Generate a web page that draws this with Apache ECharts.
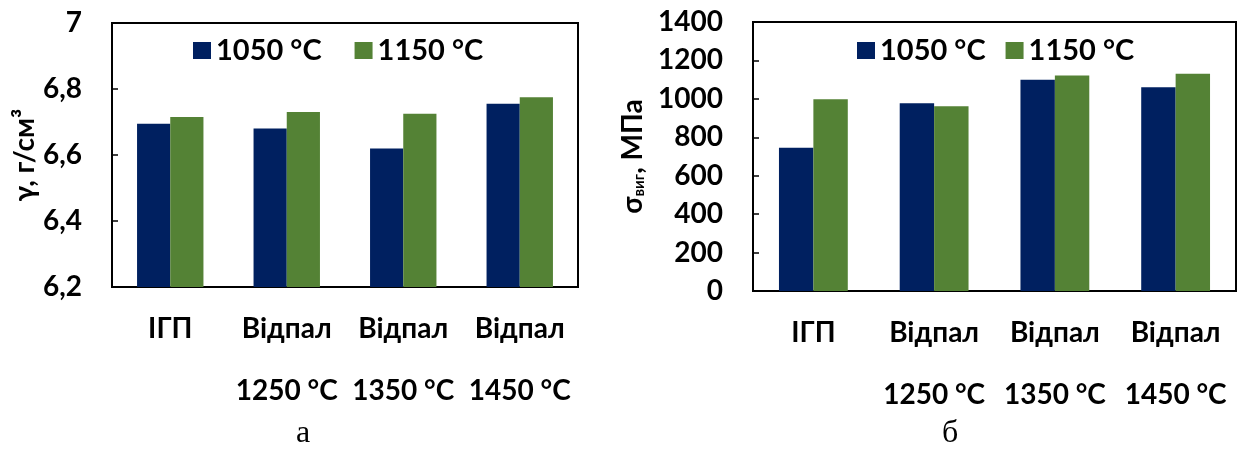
<!DOCTYPE html>
<html lang="uk">
<head>
<meta charset="UTF-8">
<title>Густина та міцність</title>
<style>
  body { margin: 0; padding: 0; background: #fff; }
  #chart { width: 1237px; height: 450px; }
</style>
</head>
<body>
<div id="chart"></div>
<script src="https://cdn.jsdelivr.net/npm/echarts@6/dist/echarts.min.js"></script>
<script>
// categories (x axis, both panels)
var categories = ['ІГП', 'Відпал\n1250 °C', 'Відпал\n1350 °C', 'Відпал\n1450 °C'];
var seriesNames = ['1050 °C', '1150 °C'];

// panel а: density, g/cm3
var density1050 = [6.695, 6.68, 6.62, 6.755];
var density1150 = [6.715, 6.73, 6.725, 6.775];
var densityMin = 6.2, densityMax = 7, densityStep = 0.2;

// panel б: bending strength, MPa
var strength1050 = [745, 977, 1100, 1060];
var strength1150 = [998, 961, 1122, 1131];
var strengthMin = 0, strengthMax = 1400, strengthStep = 200;

var FONT = "Lato, 'Open Sans', 'Noto Sans', sans-serif";
var BLUE = '#002060';
var GREEN = '#548235';

var chart = echarts.init(document.getElementById('chart'));

function xAxisFor(gridIndex) {
    return {
        type: 'category',
        gridIndex: gridIndex,
        data: categories,
        axisLine: { lineStyle: { color: '#000', width: 2 } },
        axisTick: { show: false },
        axisLabel: {
            color: '#000', fontFamily: FONT, fontWeight: 'bold', fontSize: 28,
            lineHeight: 62, margin: 11, interval: 0
        }
    };
}

function yAxisFor(gridIndex, min, max, step, formatter) {
    return {
        type: 'value',
        gridIndex: gridIndex,
        min: min, max: max, interval: step,
        nameLocation: 'middle',
        axisLine: { show: true, lineStyle: { color: '#000', width: 2 } },
        axisTick: { show: true, inside: true, length: 6, lineStyle: { color: '#000', width: 1.5 } },
        splitLine: { show: false },
        axisLabel: {
            color: '#000', fontFamily: FONT, fontWeight: 'bold', fontSize: 28,
            margin: 30, formatter: formatter
        }
    };
}

var yLeft = yAxisFor(0, densityMin, densityMax, densityStep, function (v) {
    return String(Math.round(v * 10) / 10).replace('.', ',');
});
yLeft.name = 'γ, г/см³';
yLeft.nameGap = 70;
yLeft.nameTextStyle = { color: '#000', fontFamily: FONT, fontWeight: 'bold', fontSize: 28 };

var yRight = yAxisFor(1, strengthMin, strengthMax, strengthStep, function (v) { return v; });
yRight.name = '{a|σ}{b|виг}{a|, МПа}';
yRight.nameGap = 106;
yRight.nameTextStyle = {
    color: '#000', fontFamily: FONT, fontWeight: 'bold', fontSize: 28,
    rich: {
        a: { fontFamily: FONT, fontWeight: 'bold', fontSize: 28, color: '#000' },
        b: { fontFamily: FONT, fontWeight: 'bold', fontSize: 15, color: '#000', verticalAlign: 'bottom', padding: [10, 0, 0, 0] }
    }
};

function legendFor(left, gap) {
    return {
        left: left, top: 31,
        itemWidth: 18, itemHeight: 17, itemGap: gap,
        icon: 'rect',
        data: seriesNames,
        textStyle: { color: '#000', fontFamily: FONT, fontWeight: 'bold', fontSize: 29 }
    };
}

function barSeries(name, data, color, axisIndex) {
    return {
        name: name, type: 'bar',
        xAxisIndex: axisIndex, yAxisIndex: axisIndex,
        data: data,
        barGap: '0%', barCategoryGap: '43%',
        itemStyle: { color: color },
        emphasis: { disabled: true }
    };
}

var option = {
    animation: false,
    backgroundColor: '#fff',
    grid: [
        { left: 112, top: 23, width: 466, height: 264, show: true, borderColor: '#000', borderWidth: 2 },
        { left: 753, top: 22, width: 483, height: 269, show: true, borderColor: '#000', borderWidth: 2 }
    ],
    legend: [legendFor(188, 33), legendFor(852, 20)],
    xAxis: [xAxisFor(0), xAxisFor(1)],
    yAxis: [yLeft, yRight],
    series: [
        barSeries(seriesNames[0], density1050, BLUE, 0),
        barSeries(seriesNames[1], density1150, GREEN, 0),
        barSeries(seriesNames[0], strength1050, BLUE, 1),
        barSeries(seriesNames[1], strength1150, GREEN, 1)
    ],
    graphic: [
        { type: 'text', left: 296, top: 418, style: { text: 'а', fill: '#000', font: '32px "Liberation Serif", "Times New Roman", serif' } },
        { type: 'text', left: 942, top: 418, style: { text: 'б', fill: '#000', font: '32px "Liberation Serif", "Times New Roman", serif' } }
    ]
};

chart.setOption(option);
</script>
</body>
</html>
